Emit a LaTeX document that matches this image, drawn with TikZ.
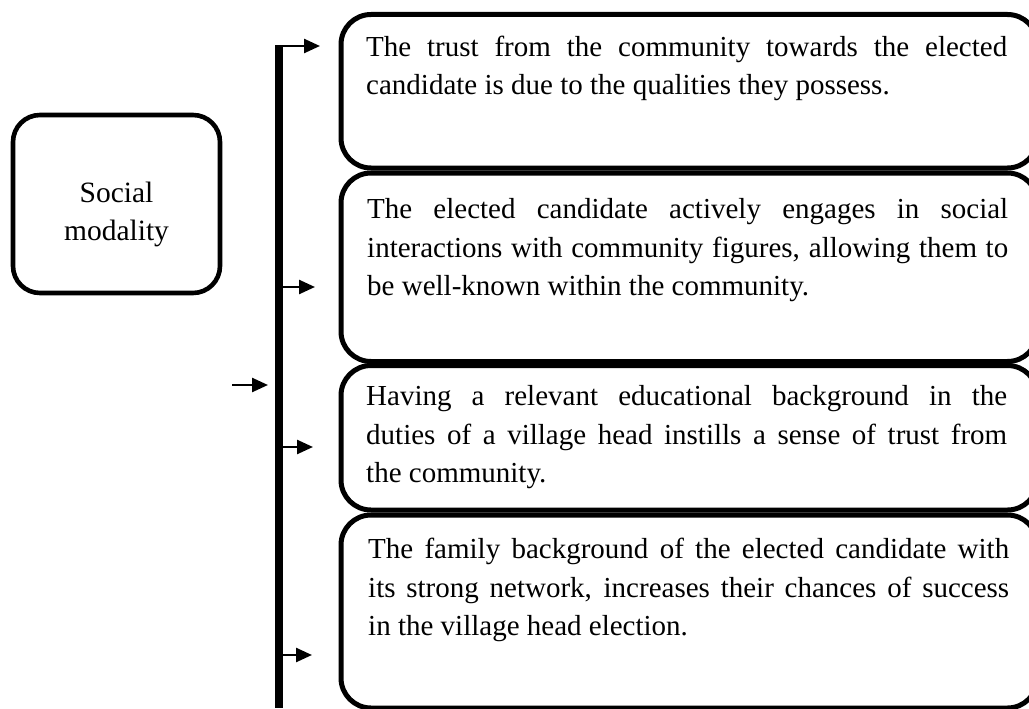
\documentclass[tikz,border=0pt]{standalone}
\usepackage{fontspec}
\setmainfont{Liberation Serif}
\usetikzlibrary{arrows.meta}
\hyphenpenalty=10000
\exhyphenpenalty=10000
\tolerance=10000
\begin{document}
\begin{tikzpicture}[x=1pt,y=-1pt,
  card/.style={draw, line width=5pt, rounded corners=30pt, inner sep=0pt, anchor=north west, minimum width=696.5pt},
  lead/.style={draw, line width=4.6pt, rounded corners=27pt, inner sep=0pt, minimum width=207pt, minimum height=178pt},
  body/.style={anchor=north west, inner sep=0pt, text width=641pt, align=justify,
    font=\fontsize{29}{38.8}\selectfont},
  ltext/.style={anchor=north, inner sep=0pt, align=center, font=\fontsize{29.5}{38}\selectfont},
  barbox/.style={fill=black, inner sep=0pt, minimum width=7.5pt, minimum height=663pt, anchor=north},
  arr/.style={line width=2.5pt, -{Triangle[length=16pt,width=14pt]}}
]
\useasboundingbox (0,0) rectangle (1029,709);

% left box
\node[lead] (social) at (116.5,204) {};
\node[ltext] (socialtxt) at (116.5,180) {\rule{0pt}{22pt}Social\\modality};

% vertical bar
\node[barbox] (bar) at (279,45) {};

% right boxes
\node[card, minimum height=153.5pt] (b1) at (338.5,12) {};
\node[card, minimum height=188.5pt] (b2) at (338.5,170.5) {};
\node[card, minimum height=144.5pt] (b3) at (338.5,363) {};
\node[card, minimum height=193pt] (b4) at (338.5,512.5) {};

\node[body] (t1) at (366,34) {\rule{0pt}{22pt}The trust from the community towards the elected\linebreak candidate is due to the qualities they possess.};
\node[body] (t2) at (367,196) {\rule{0pt}{22pt}The elected candidate actively engages in social\linebreak interactions with community figures, allowing them to\linebreak be well-known within the community.};
\node[body] (t3) at (366,383) {\rule{0pt}{22pt}Having a relevant educational background in the\linebreak duties of a village head instills a sense of trust from\linebreak the community.};
\node[body] (t4) at (368,536) {\rule{0pt}{22pt}The family background of the elected candidate with\linebreak its strong network, increases their chances of success\linebreak in the village head election.};

% arrow tips
\coordinate (e1) at (320,46);
\coordinate (e2) at (315,287);
\coordinate (e3) at (313,447);
\coordinate (e4) at (312,655);
\coordinate (l0) at (232,385);
\coordinate (l1) at (268,385);

\draw[arr] (bar.center |- e1) -- (e1);
\draw[arr] (bar.east |- e2) -- (e2);
\draw[arr] (bar.east |- e3) -- (e3);
\draw[arr] (bar.east |- e4) -- (e4);
\draw[arr] (l0) -- (l1);
\end{tikzpicture}
\end{document}
